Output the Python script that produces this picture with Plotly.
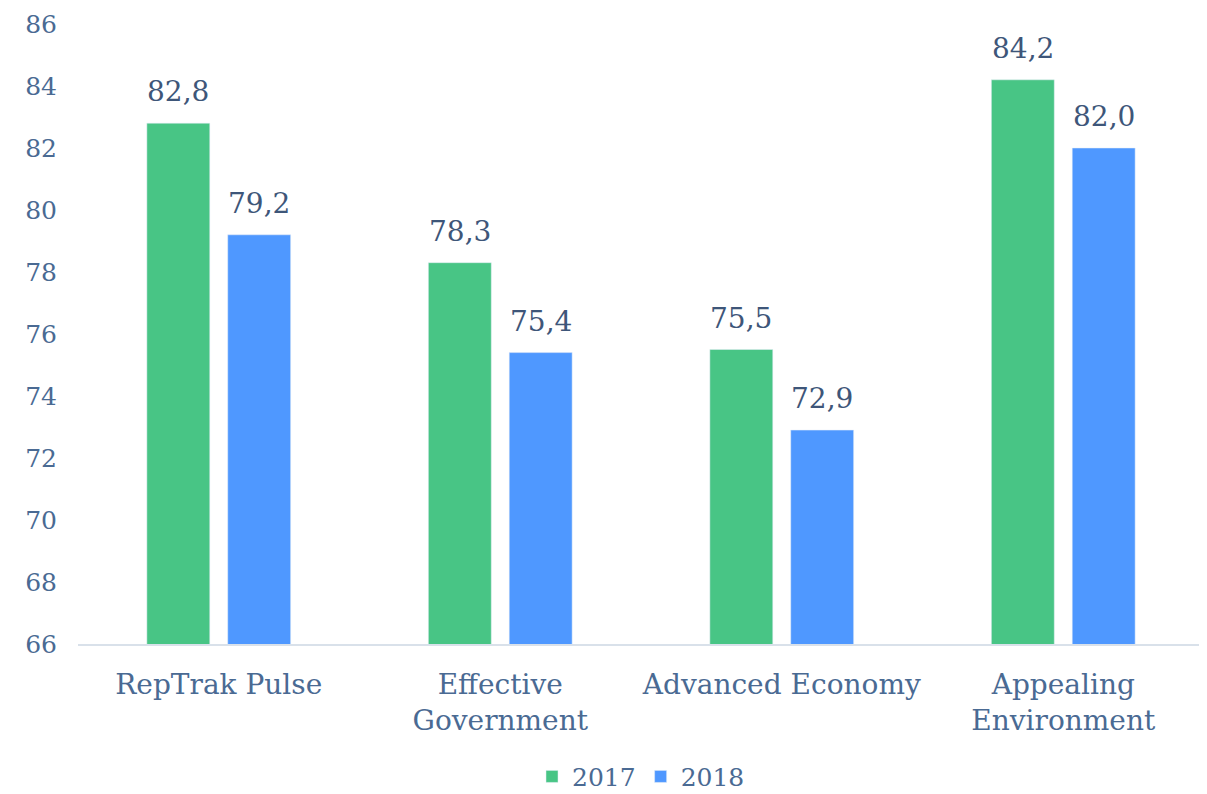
import plotly.graph_objects as go

categories = ["RepTrak Pulse", "Effective<br>Government", "Advanced Economy", "Appealing<br>Environment"]
values_2017 = [82.8, 78.3, 75.5, 84.2]
values_2018 = [79.2, 75.4, 72.9, 82.0]
series_names = ["2017", "2018"]
colors = ["#48C585", "#4F98FF"]

FONT = "DejaVu Serif"
TICK_COLOR = "#4A6A93"
LABEL_COLOR = "#3E5679"

BARGAP = 0.4255
def fmt(v):
    return f"{v:.1f}".replace(".", ",")

fig = go.Figure()
for name, vals, col in zip(series_names, [values_2017, values_2018], colors):
    fig.add_trace(go.Bar(
        x=categories, y=vals, name=name, marker_color=col,
    ))

slot = (1 - BARGAP) / 2
for k, vals in enumerate([values_2017, values_2018]):
    off = (k - 0.5) * slot
    for i, v in enumerate(vals):
        fig.add_annotation(x=i + off, y=v, xref="x", yref="y", text=fmt(v),
                           showarrow=False, yanchor="bottom", yshift=13,
                           font=dict(family=FONT, size=28, color=LABEL_COLOR))

fig.update_layout(
    width=1199, height=786,
    margin=dict(l=70, r=3, t=16, b=150, autoexpand=False),
    plot_bgcolor="white", paper_bgcolor="white",
    barmode="group", bargap=BARGAP, bargroupgap=0.222,
    font=dict(family=FONT, color=TICK_COLOR),
    legend=dict(orientation="h", x=0.5, xanchor="center", y=-0.214, yanchor="middle",
                font=dict(family=FONT, size=25, color=TICK_COLOR)),
    xaxis=dict(showline=True, linecolor="#D9E1EA", linewidth=2, ticks="",
               automargin=False, ticklabelstandoff=14,
               tickfont=dict(family=FONT, size=28, color=TICK_COLOR)),
    yaxis=dict(range=[66, 86], dtick=2, showgrid=False, zeroline=False,
               ticks="", ticklabelstandoff=20, automargin=False,
               ticklabeloverflow="allow",
               tickfont=dict(family=FONT, size=25, color=TICK_COLOR)),
)

fig.write_html("out.html")
